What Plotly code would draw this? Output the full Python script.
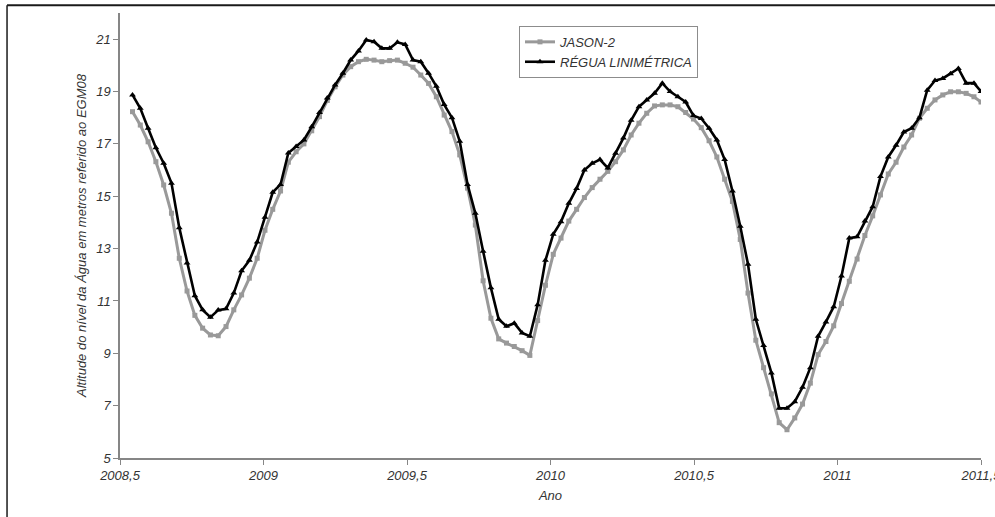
import plotly.graph_objects as go

# Decimal-year sample times (≈10-day Jason-2 repeat cycle)
anos = [
    2008.5436, 2008.5707, 2008.5979, 2008.6250, 2008.6522, 2008.6793, 2008.7065, 2008.7336, 2008.7608, 2008.7879,
    2008.8151, 2008.8422, 2008.8694, 2008.8965, 2008.9237, 2008.9508, 2008.9780, 2009.0051, 2009.0322, 2009.0594,
    2009.0865, 2009.1137, 2009.1408, 2009.1680, 2009.1951, 2009.2223, 2009.2494, 2009.2766, 2009.3037, 2009.3309,
    2009.3580, 2009.3852, 2009.4123, 2009.4395, 2009.4666, 2009.4937, 2009.5209, 2009.5480, 2009.5752, 2009.6023,
    2009.6295, 2009.6566, 2009.6838, 2009.7109, 2009.7381, 2009.7652, 2009.7924, 2009.8195, 2009.8467, 2009.8738,
    2009.9010, 2009.9281, 2009.9552, 2009.9824, 2010.0095, 2010.0367, 2010.0638, 2010.0910, 2010.1181, 2010.1453,
    2010.1724, 2010.1996, 2010.2267, 2010.2539, 2010.2810, 2010.3082, 2010.3353, 2010.3625, 2010.3896, 2010.4167,
    2010.4439, 2010.4710, 2010.4982, 2010.5253, 2010.5525, 2010.5796, 2010.6068, 2010.6339, 2010.6611, 2010.6882,
    2010.7154, 2010.7425, 2010.7697, 2010.7968, 2010.8240, 2010.8511, 2010.8782, 2010.9054, 2010.9325, 2010.9597,
    2010.9868, 2011.0140, 2011.0411, 2011.0683, 2011.0954, 2011.1226, 2011.1497, 2011.1769, 2011.2040, 2011.2312,
    2011.2583, 2011.2855, 2011.3126, 2011.3397, 2011.3669, 2011.3940, 2011.4212, 2011.4483, 2011.4755, 2011.5000,
]

jason2 = [
    18.23, 17.72, 17.08, 16.32, 15.43, 14.35, 12.63, 11.38, 10.45, 9.96,
    9.70, 9.67, 10.02, 10.66, 11.23, 11.87, 12.63, 13.70, 14.50, 15.20,
    16.30, 16.70, 17.00, 17.50, 18.04, 18.66, 19.18, 19.63, 19.95, 20.14,
    20.23, 20.20, 20.14, 20.18, 20.20, 20.08, 19.93, 19.63, 19.31, 18.80,
    18.10, 17.47, 16.58, 15.31, 13.90, 11.77, 10.34, 9.55, 9.39, 9.26,
    9.10, 8.92, 10.25, 11.60, 12.78, 13.40, 14.05, 14.50, 14.95, 15.33,
    15.65, 15.95, 16.32, 16.77, 17.34, 17.79, 18.17, 18.45, 18.49, 18.49,
    18.42, 18.20, 17.95, 17.62, 17.12, 16.50, 15.65, 14.80, 13.35, 11.30,
    9.50, 8.45, 7.45, 6.35, 6.08, 6.53, 7.06, 7.86, 8.95, 9.45,
    10.05, 10.90, 11.75, 12.60, 13.50, 14.25, 15.05, 15.85, 16.30, 16.88,
    17.34, 17.98, 18.36, 18.68, 18.87, 18.99, 18.99, 18.93, 18.80, 18.60,
]

regua = [
    18.87, 18.36, 17.60, 16.85, 16.26, 15.50, 13.80, 12.45, 11.20, 10.66,
    10.38, 10.65, 10.70, 11.30, 12.15, 12.55, 13.25, 14.20, 15.15, 15.45,
    16.65, 16.90, 17.15, 17.65, 18.20, 18.75, 19.25, 19.70, 20.20, 20.55,
    20.97, 20.90, 20.65, 20.65, 20.88, 20.80, 20.20, 20.14, 19.70, 19.20,
    18.50, 18.00, 17.10, 15.45, 14.35, 12.90, 11.50, 10.30, 10.03, 10.15,
    9.78, 9.65, 10.85, 12.55, 13.55, 14.03, 14.73, 15.30, 16.00, 16.26,
    16.40, 16.08, 16.64, 17.22, 17.90, 18.42, 18.68, 18.93, 19.32, 19.00,
    18.80, 18.60, 18.08, 17.97, 17.60, 17.15, 16.40, 15.20, 13.85, 12.40,
    10.30, 9.30, 8.25, 6.90, 6.90, 7.15, 7.70, 8.45, 9.65, 10.20,
    10.78, 11.95, 13.40, 13.45, 14.05, 14.60, 15.75, 16.50, 16.95, 17.45,
    17.60, 18.00, 19.05, 19.42, 19.50, 19.68, 19.88, 19.32, 19.32, 19.00,
]

x_ticks = [2008.5, 2009, 2009.5, 2010, 2010.5, 2011, 2011.5]
x_ticklabels = ["2008,5", "2009", "2009,5", "2010", "2010,5", "2011", "2011,5"]
y_ticks = [5, 7, 9, 11, 13, 15, 17, 19, 21]

FONT = "Liberation Sans, Arial, sans-serif"
TXT = "#333333"
AX = "#868686"

fig = go.Figure()
fig.add_trace(go.Scatter(
    x=anos, y=jason2, name="JASON-2", mode="lines+markers",
    line=dict(color="#999999", width=3),
    marker=dict(symbol="square", size=5, color="#999999"),
))
fig.add_trace(go.Scatter(
    x=anos, y=regua, name="RÉGUA LINIMÉTRICA", mode="lines+markers",
    line=dict(color="#000000", width=2.6),
    marker=dict(symbol="triangle-up", size=6, color="#000000"),
))

fig.update_layout(
    width=995, height=517,
    margin=dict(l=120, r=14, t=13, b=59, autoexpand=False),
    paper_bgcolor="white", plot_bgcolor="white",
    font=dict(family=FONT, size=13, color=TXT),
    showlegend=True,
    legend=dict(
        x=0.4634, y=0.971, xanchor="left", yanchor="top",
        bgcolor="white", bordercolor="#8c8c8c", borderwidth=1,
        font=dict(family=FONT, size=13, color=TXT, style="italic"),
        tracegroupgap=0, itemwidth=30,
    ),
    xaxis=dict(
        range=[2008.5, 2011.5], tickvals=x_ticks, ticktext=x_ticklabels,
        showgrid=False, zeroline=False, automargin=False,
        showline=True, linecolor=AX, linewidth=1.5,
        ticks="outside", ticklen=5, tickcolor=AX, tickwidth=1,
        ticklabeloverflow="allow",
        tickfont=dict(family=FONT, size=13, color=TXT, style="italic"),
        title=dict(text="Ano", standoff=9,
                   font=dict(family=FONT, size=13, color=TXT, style="italic")),
    ),
    yaxis=dict(
        range=[5, 22], tickvals=y_ticks,
        showgrid=False, zeroline=False, automargin=False,
        showline=True, linecolor=AX, linewidth=1.5,
        ticks="outside", ticklen=5, tickcolor=AX, tickwidth=1,
        tickfont=dict(family=FONT, size=13, color=TXT, style="italic"),
        title=dict(text="Altitude do nível da Água em metros referido ao EGM08", standoff=6,
                   font=dict(family=FONT, size=13, color=TXT, style="italic")),
    ),
    shapes=[
        dict(type="line", xref="paper", yref="paper", x0=-0.1312, x1=1.02, y0=1.0175, y1=1.0175,
             line=dict(color="#1a1a1a", width=2)),
        dict(type="line", xref="paper", yref="paper", x0=-0.1312, x1=-0.1312, y0=1.0175, y1=-0.2,
             line=dict(color="#1a1a1a", width=1.5)),
    ],
)

fig.write_html("out.html", config={"displayModeBar": False},
               post_script="document.body.style.margin='0';")
